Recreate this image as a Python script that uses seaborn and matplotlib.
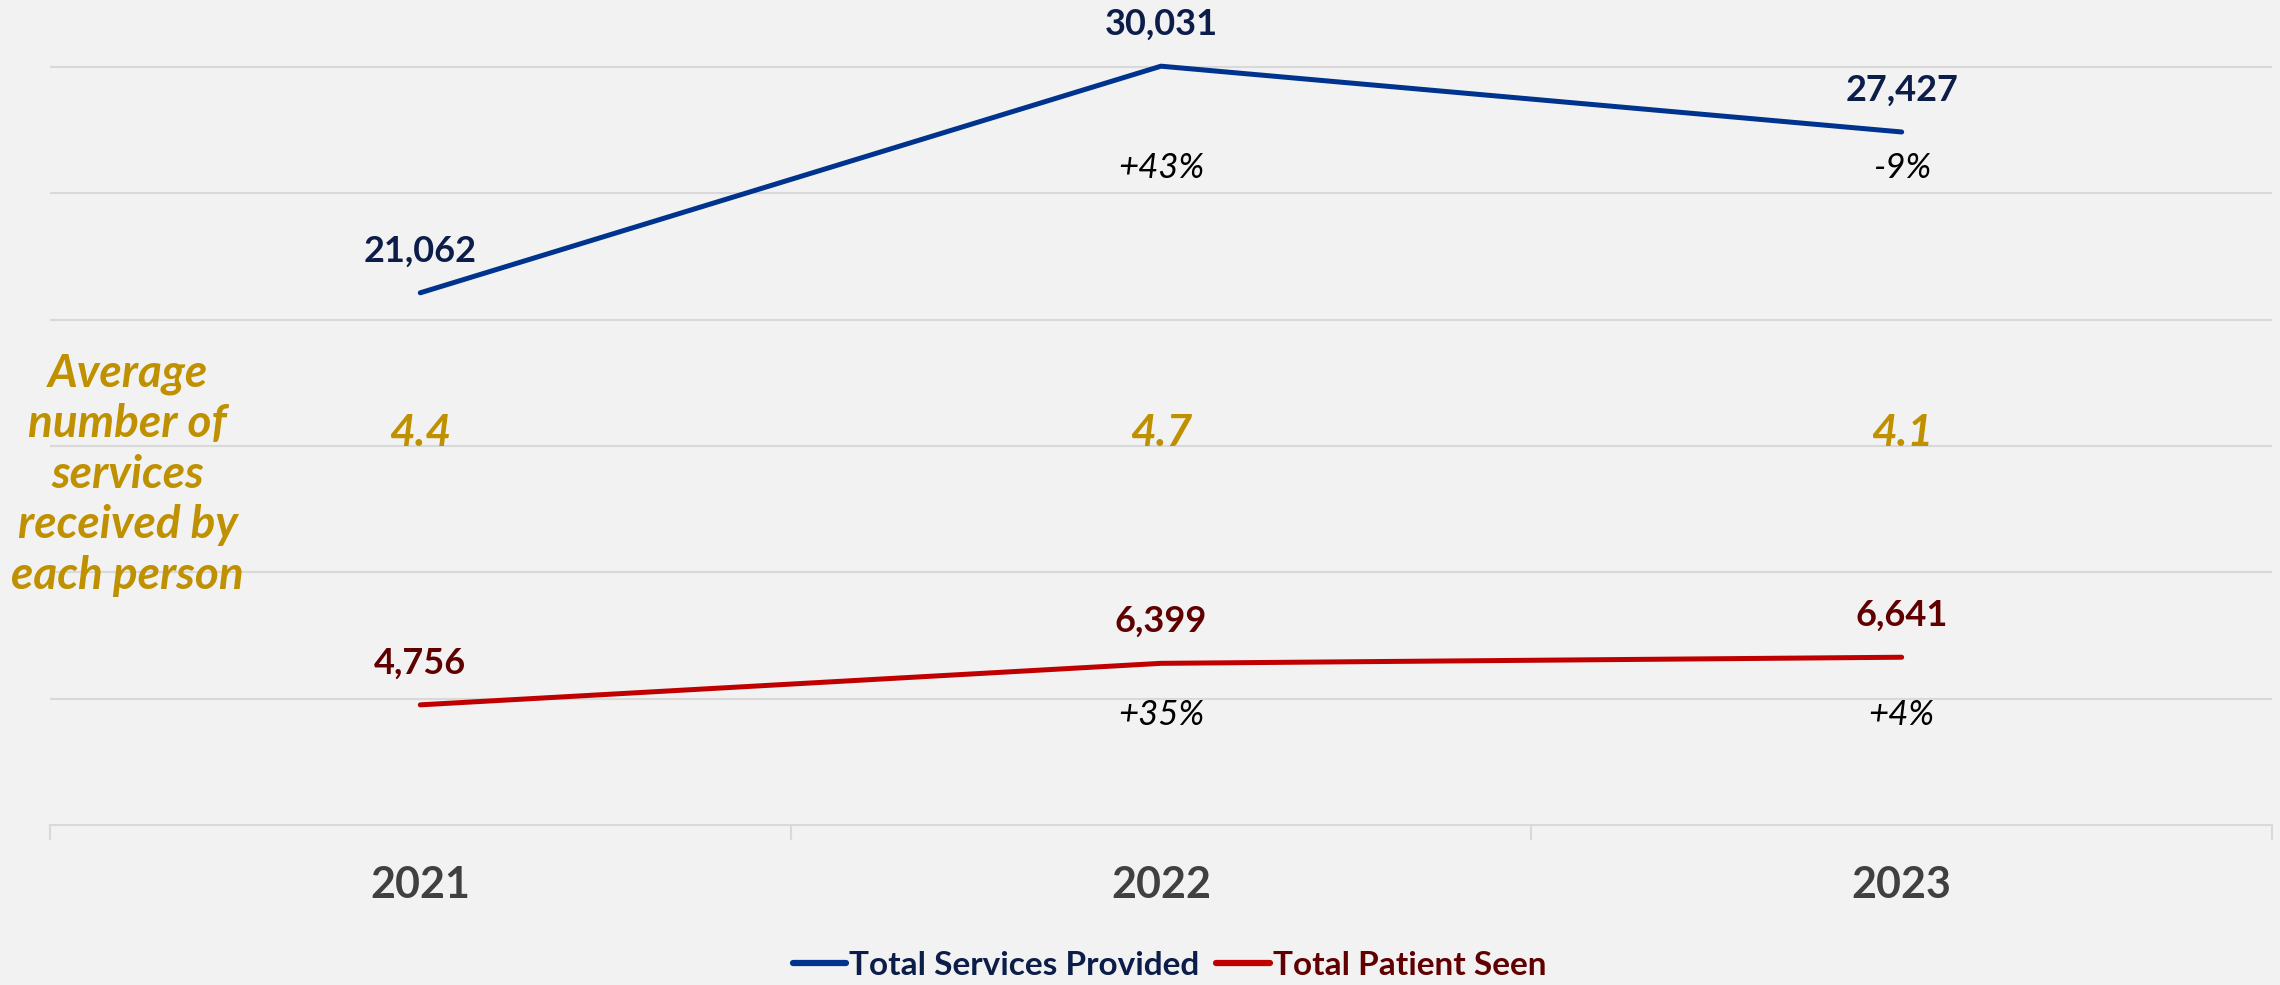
import matplotlib
matplotlib.use("Agg")
import matplotlib.pyplot as plt
import seaborn as sns
import pandas as pd
from matplotlib.lines import Line2D

# Data
YEARS = ["2021", "2022", "2023"]
SERVICES = [21062, 30031, 27427]
PATIENTS = [4756, 6399, 6641]
SERVICES_CHANGE = ["", "+43%", "-9%"]
PATIENTS_CHANGE = ["", "+35%", "+4%"]
AVG_PER_PERSON = ["4.4", "4.7", "4.1"]
SERIES = ["Total Services Provided", "Total Patient Seen"]

# Colours
BG = "#f2f2f2"
GRID = "#d9d9d9"
LINE_COLORS = {SERIES[0]: "#00338d", SERIES[1]: "#c00000"}
LABEL_COLORS = {SERIES[0]: "#0c1d4a", SERIES[1]: "#600000"}
GOLD = "#bf9000"

df = pd.DataFrame({
    "Year": YEARS * 2,
    "Value": SERVICES + PATIENTS,
    "Series": [SERIES[0]] * len(YEARS) + [SERIES[1]] * len(YEARS),
})

sns.set_theme(style="white")
plt.rcParams["font.family"] = ["Lato", "DejaVu Sans"]

fig = plt.figure(figsize=(22.8, 9.85), dpi=100, facecolor=BG)
ax = fig.add_axes([0.0219, 0.1624, 0.9746, 0.8376])
ax.set_facecolor(BG)

sns.lineplot(data=df, x="Year", y="Value", hue="Series", palette=LINE_COLORS,
             linewidth=3.6, ax=ax, legend=False, sort=False,
             solid_capstyle="round", zorder=3)

ax.set_xlim(-0.5, len(YEARS) - 0.5)
ax.set_ylim(0, 32650)
ax.set_yticks(range(5000, 30001, 5000))
ax.set_yticklabels([])
ax.tick_params(axis="y", length=0)
ax.grid(axis="y", color=GRID, linewidth=1.5)
ax.set_axisbelow(True)

ax.set_xlabel("")
ax.set_ylabel("")
ax.set_xticks(range(len(YEARS)))
ax.set_xticklabels(YEARS, fontsize=31, fontweight="bold", color="#404040")
ax.tick_params(axis="x", which="major", length=0, pad=29)
ax.set_xticks([i - 0.5 for i in range(len(YEARS) + 1)], minor=True)
ax.tick_params(axis="x", which="minor", bottom=True, length=11, width=1.5,
               color=GRID)

for s in ["top", "right", "left"]:
    ax.spines[s].set_visible(False)
ax.spines["bottom"].set_color(GRID)
ax.spines["bottom"].set_linewidth(1.5)

# value labels
for name, vals in zip(SERIES, [SERVICES, PATIENTS]):
    for i, v in enumerate(vals):
        ax.annotate(f"{v:,}", (i, v), xytext=(0, 30), textcoords="offset points",
                    ha="center", va="center", fontsize=26, fontweight="bold",
                    color=LABEL_COLORS[name])

# change labels
for i, t in enumerate(SERVICES_CHANGE):
    ax.text(i, 26000, t, ha="center", va="center", fontsize=25,
            style="italic", color="black")
for i, t in enumerate(PATIENTS_CHANGE):
    ax.text(i, 4350, t, ha="center", va="center", fontsize=25,
            style="italic", color="black")

# average per person
for i, t in enumerate(AVG_PER_PERSON):
    ax.text(i, 15000, t, ha="center", va="baseline", fontsize=32,
            fontweight="bold", style="italic", color=GOLD)

fig.text(0.056, 0.518, "Average\nnumber of\nservices\nreceived by\neach person",
         ha="center", va="center", fontsize=33, fontweight="bold",
         style="italic", color=GOLD, linespacing=1.25)

handles = [Line2D([0], [0], color=LINE_COLORS[s], linewidth=4.5,
                  solid_capstyle="round") for s in SERIES]
leg = fig.legend(handles, SERIES, loc="center", bbox_to_anchor=(0.513, 0.02),
                 ncol=2, frameon=False, handlelength=1.6,
                 handletextpad=0.1, columnspacing=0.5,
                 prop={"weight": "bold", "size": 24})
for txt, s in zip(leg.get_texts(), SERIES):
    txt.set_color(LABEL_COLORS[s])

fig.savefig("out.png", dpi=100, facecolor=BG)
